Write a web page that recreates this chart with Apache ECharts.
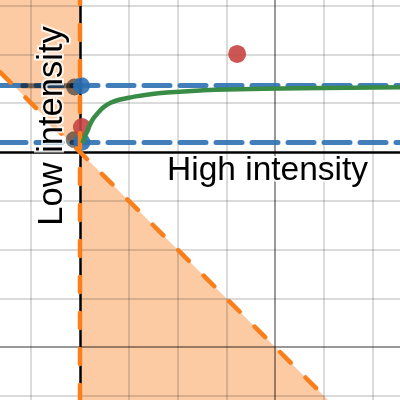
<!DOCTYPE html>
<html><head><meta charset="utf-8">
<script src="https://cdn.jsdelivr.net/npm/echarts@6/dist/echarts.min.js"></script>
<style>html,body{margin:0;padding:0;background:#fff}#c{width:400px;height:400px}</style>
</head><body><div id="c"></div>
<script>
// view window (graph units; one minor grid square = 1 unit)
const xMin = -1.639, xMax = 6.557, yMin = -5.082, yMax = 3.115;
// grid lines
const gridX = [-1, 1, 2, 3, 5, 6];
const gridY = [-5, -3, -2, -1, 1, 2, 3];
const majorX = [4];
const majorY = [-4];
// boundary lines of the shaded region
const vertLine = [[0, yMin], [0, yMax]];
const diagUpper = [[xMin, -xMin], [0, 0]];
const diagLower = [[0, 0], [-yMin, yMin]];
const diagFull = [[xMin, -xMin], [-yMin, yMin]];
// horizontal dashed blue levels
const blueLevels = [1.36, 0.2];
// gray segment
const graySeg = [[-1.17, 1.36], [0, 1.36]];
// points
const grayPts = [[-0.11, 1.33], [-0.12, 0.25]];
const bluePts = [[0.03, 1.36], [0.04, 0.2]];
const redPts = [[3.22, 2.01], [0.04, 0.51]];
// green curve
const curveX = [0.05, 0.08, 0.11, 0.15, 0.2, 0.27, 0.35, 0.42, 0.5, 0.61, 0.8, 1.09, 1.4, 1.78, 2.46, 3.0, 4.5, 6.56];
const curveY = [0.18, 0.26, 0.34, 0.43, 0.55, 0.68, 0.78, 0.86, 0.93, 1.0, 1.07, 1.13, 1.18, 1.22, 1.26, 1.28, 1.305, 1.325];

const orange = '#fa7e19', blue = '#2d70b3', green = '#388c46', red = '#c74440';
const chart = echarts.init(document.getElementById('c'));
const mlBase = {silent: true, symbol: 'none', label: {show: false}, animation: false};
const series = [
  {type: 'line', data: diagUpper, symbol: 'none', lineStyle: {width: 0}, z: 1,
   areaStyle: {origin: 'end', color: orange, opacity: 0.4}},
  {type: 'line', data: diagLower, symbol: 'none', lineStyle: {width: 0}, z: 1,
   areaStyle: {origin: 'start', color: orange, opacity: 0.4}},
  {type: 'line', data: [], z: 2, markLine: Object.assign({}, mlBase, {
    lineStyle: {color: 'rgba(0,0,0,0.14)', width: 2, type: 'solid'},
    data: gridX.map(v => ({xAxis: v})).concat(gridY.map(v => ({yAxis: v})))})},
  {type: 'line', data: [], z: 2, markLine: Object.assign({}, mlBase, {
    lineStyle: {color: 'rgba(0,0,0,0.4)', width: 2, type: 'solid'},
    data: majorX.map(v => ({xAxis: v})).concat(majorY.map(v => ({yAxis: v})))})},
  {type: 'line', data: [], z: 3, markLine: Object.assign({}, mlBase, {
    lineStyle: {color: '#000', width: 2.5, type: 'solid'},
    data: [{xAxis: 0}, {yAxis: 0}]})},
  {type: 'line', data: [], z: 4, markLine: Object.assign({}, mlBase, {
    lineStyle: {color: blue, width: 5, type: [26, 10], cap: 'round', opacity: 0.9},
    data: blueLevels.map(v => ({yAxis: v}))})},
  {type: 'line', data: graySeg, symbol: 'none', z: 5,
   lineStyle: {color: '#000', opacity: 0.5, width: 5, cap: 'round'}},
  {type: 'scatter', data: grayPts, symbolSize: 17, z: 5, itemStyle: {color: '#000', opacity: 0.5}},
  {type: 'scatter', data: bluePts, symbolSize: 17, z: 6, itemStyle: {color: blue, opacity: 0.9}},
  {type: 'scatter', data: redPts, symbolSize: 18, z: 6, itemStyle: {color: red, opacity: 0.9}},
  {type: 'line', data: vertLine, symbol: 'none', z: 7,
   lineStyle: {color: orange, width: 4.5, type: [15, 21], cap: 'round'}},
  {type: 'line', data: diagFull, symbol: 'none', z: 7,
   lineStyle: {color: orange, width: 4.5, type: [15, 21], cap: 'round'}},
  {type: 'line', data: curveX.map((x, i) => [x, curveY[i]]), symbol: 'none', smooth: true, z: 8,
   lineStyle: {color: green, width: 4.5}}
];
chart.setOption({
  animation: false,
  grid: {left: 0, right: 0, top: 0, bottom: 0},
  xAxis: {type: 'value', min: xMin, max: xMax, show: false, splitLine: {show: false}},
  yAxis: {type: 'value', min: yMin, max: yMax, show: false, splitLine: {show: false}},
  series: series,
  graphic: [
    {type: 'text', z: 100, x: 167, y: 171, style: {text: 'High intensity', font: '33.5px "Liberation Sans", Arial, sans-serif',
      fill: '#000', textAlign: 'left', textVerticalAlign: 'middle', stroke: 'rgba(255,255,255,0.8)', lineWidth: 4}},
    {type: 'text', z: 100, x: 52, y: 126, rotation: Math.PI / 2, style: {text: 'Low intensity', font: '34.5px "Liberation Sans", Arial, sans-serif',
      fill: '#000', textAlign: 'center', textVerticalAlign: 'middle', stroke: 'rgba(255,255,255,0.8)', lineWidth: 4}}
  ]
});
</script></body></html>
